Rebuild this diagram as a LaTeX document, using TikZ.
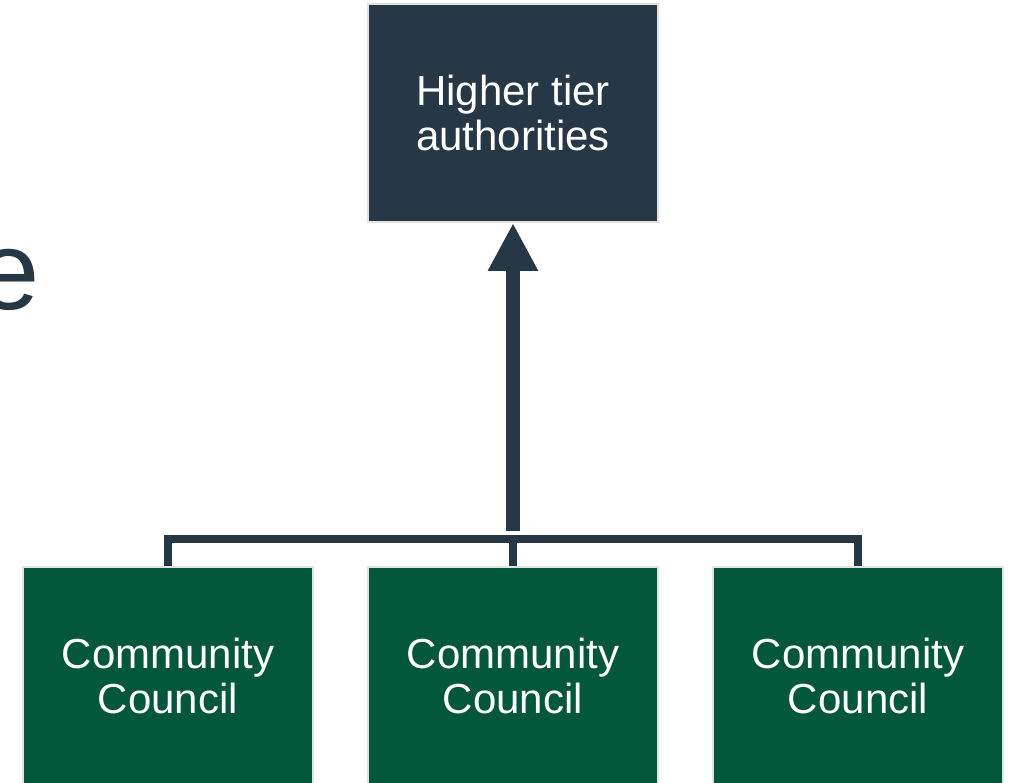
\documentclass[tikz,border=0pt]{standalone}
\usepackage{fontspec}
\setmainfont{Liberation Sans}
\usetikzlibrary{arrows.meta}
\definecolor{navy}{HTML}{263746}
\definecolor{forest}{HTML}{03573B}
\definecolor{edge}{HTML}{E2E2E2}
\tikzset{
  box/.style={draw=edge, line width=2pt, minimum width=290pt, minimum height=218pt,
    text=white, align=center, font=\fontsize{42}{45}\selectfont, inner sep=0pt},
  topbox/.style={box, fill=navy},
  ccbox/.style={box, fill=forest},
  conn/.style={draw=navy, line width=8pt},
  bigarrow/.style={draw=navy, line width=14pt, -{Triangle[width=47pt,length=48pt]}}
}
\begin{document}
\begin{tikzpicture}[x=1pt,y=-1pt]
\useasboundingbox[fill=white] (0,0) rectangle (1010,783);
\node[topbox] (h) at (513,113) {Higher tier\\authorities};
\node[ccbox] (c1) at (168,676) {Community\\Council};
\node[ccbox] (c2) at (513,676) {Community\\Council};
\node[ccbox] (c3) at (858,676) {Community\\Council};
\node[anchor=base east, text=navy, font=\fontsize{112}{112}\selectfont, inner sep=0pt] (e) at (40,310) {e};
\coordinate (j) at (513,539);
\coordinate (s) at (513,531);
\draw[conn] (c1.north) -- (c1.north |- j) -- (c3.north |- j) -- (c3.north);
\draw[conn] (c2.north) -- (j);
\draw[bigarrow] (s) -- (h.south);
\end{tikzpicture}
\end{document}
